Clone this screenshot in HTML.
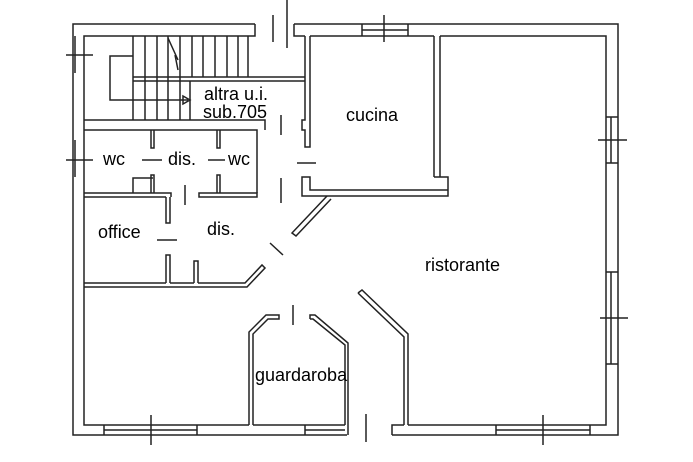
<!DOCTYPE html>
<html><head><meta charset="utf-8"><style>
html,body{margin:0;padding:0;background:#fff;width:693px;height:462px;overflow:hidden}
svg{display:block}
text{font-family:"Liberation Sans",Arial,sans-serif;font-size:18px;fill:#000}
</style></head><body>
<svg width="693" height="462" viewBox="0 0 693 462" xmlns="http://www.w3.org/2000/svg">
<g fill="none" stroke="#222" stroke-width="1.5">
<path d="M255 24 H73 V435 H347 M392 435 H618 V24 H294"/>
<path d="M255 24 V36 H84 V425 H249 M253 425 H345 M348 425 V435 M392 435 V425 H404 M408 425 H606 V36 H440 M434 36 H310 M305 36 H294 V24"/>
<path d="M273 15 V42 M287 0 V48"/>
<path d="M362 24 V36 M408 24 V36 M362 30 H408 M384 15 V42"/>
<path d="M75 36 V73 M66 55 H93"/>
<path d="M75 140 V177 M66 160 H93"/>
<path d="M611 117 V163 M606 117 H618 M606 163 H618 M598 140 H627"/>
<path d="M611 272 V364 M606 272 H618 M606 364 H618 M600 318 H628"/>
<path d="M104 425 V435 M197 425 V435 M104 430 H197 M151 415 V445"/>
<path d="M305 425 V435 M305 430 H345"/>
<path d="M496 425 V435 M590 425 V435 M496 430 H590 M543 415 V445"/>
<path d="M366 414 V442"/>
<path d="M133 36 V120 M145 36 V120 M157 36 V120 M168 36 V120 M180 36 V120 M192 36 V77 M203 36 V77 M215 36 V77 M227 36 V77 M238 36 V77 M248 36 V77 M190 81 V120"/>
<path d="M133 77 H305 M133 81 H305"/>
<path d="M133 56 H110 V100 H188"/>
<path d="M183 96 L190 100 L183 104 Z"/>
<path d="M168 38 L178 60 M175 55 L178 70"/>
<path d="M84 120 H265 V130 M84 130 H257 V193"/>
<path d="M305 36 V120 H302 V130 H305 V147 H310 V36"/>
<path d="M434 36 V177 M440 36 V177 M434 177 H448 V196 H302 V177 H310 V190 H448"/>
<path d="M151 130 V148 H154 V130 M217 130 V148 H220 V130"/>
<path d="M151 193 V175 H154 V193 M217 193 V175 H220 V193"/>
<path d="M133 193 V178 H153"/>
<path d="M142 160 H162 M208 160 H225"/>
<path d="M84 193 H171 V197 M199 193 H257 V197 H199 Z M84 197 H166"/>
<path d="M166 197 V223 H170 V197 M166 283 V255 H170 V283 M194 283 V261 H198 V283"/>
<path d="M157 240 H177 M185 185 V205"/>
<path d="M281 115 V135 M281 178 V203 M297 163 H316"/>
<path d="M84 283 H166 M170 283 H194 M198 283 H245 L262 265 L265 268 L247 287 H84"/>
<path d="M327 196 L292 233 L296 236 L331 199"/>
<path d="M270 243 L283 255"/>
<path d="M249 425 V332 L266 315 H279 V319 H268 L253 334 V425"/>
<path d="M310 319 V315 H315 L348 343 V425 M345 425 V345 L313 319 H310"/>
<path d="M293 305 V325"/>
<path d="M358 293 L404 337 V425 M408 425 V334 L362 290 L358 293"/>
</g>
<text x="204" y="100">altra u.i.</text>
<text x="203" y="118">sub.705</text>
<text x="346" y="121">cucina</text>
<text x="103" y="165">wc</text>
<text x="168" y="165">dis.</text>
<text x="228" y="165">wc</text>
<text x="98" y="238">office</text>
<text x="207" y="235">dis.</text>
<text x="425" y="271">ristorante</text>
<text x="255" y="381">guardaroba</text>
</svg>
</body></html>
